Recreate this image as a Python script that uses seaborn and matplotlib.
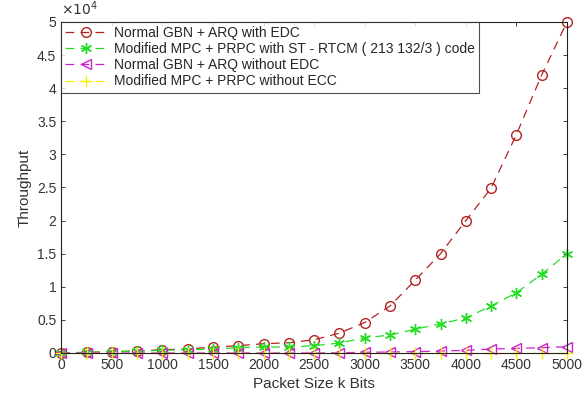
import numpy as np
import pandas as pd
import seaborn as sns
import matplotlib
matplotlib.use("Agg")
import matplotlib.pyplot as plt
from matplotlib.ticker import FuncFormatter, MultipleLocator

packet_size = [0, 250, 500, 750, 1000, 1250, 1500, 1750, 2000, 2250, 2500,
               2750, 3000, 3250, 3500, 3750, 4000, 4250, 4500, 4750, 5000]

gbn_with_edc = [0, 100, 200, 300, 500, 600, 900, 1100, 1400, 1550, 2000,
                3000, 4600, 7100, 11000, 15000, 20000, 24900, 33000, 42000, 50000]
mpc_with_st_rtcm = [0, 100, 200, 300, 400, 500, 600, 800, 900, 900, 1100,
                    1500, 2300, 2700, 3600, 4400, 5300, 7100, 9100, 11900, 15000]
gbn_without_edc = [0, 0, 0, 0, 0, 0, 0, 0, 0, 0, 0,
                   50, 100, 150, 200, 300, 400, 600, 700, 800, 950]
mpc_without_ecc = [0] * 21

labels = [
    "Normal GBN + ARQ with EDC",
    "Modified MPC + PRPC with ST - RTCM ( 213 132/3 ) code",
    "Normal GBN + ARQ without EDC",
    "Modified MPC + PRPC without ECC",
]
series = [gbn_with_edc, mpc_with_st_rtcm, gbn_without_edc, mpc_without_ecc]
colors = ["#B22222", "#22DD22", "#CC22CC", "#F2F200"]
markers = ["o", (6, 2, 0), "<", "+"]
sizes = [7, 8, 7, 8]

sns.set_theme(style="white")
plt.rcParams["font.family"] = ["Liberation Sans", "DejaVu Sans"]

fig = plt.figure(figsize=(5.83, 4.0), dpi=100)
ax = fig.add_axes([0.105, 0.1175, 0.8675, 0.8275])

for vals, lab, col, mk, ms in zip(series, labels, colors, markers, sizes):
    df = pd.DataFrame({"size": packet_size, "thr": vals})
    sns.lineplot(data=df, x="size", y="thr", ax=ax, color=col, label=lab,
                 marker=mk, markersize=ms, markerfacecolor="none",
                 markeredgecolor=col, markeredgewidth=1.0, linewidth=0.9,
                 dashes=(7, 5), clip_on=False)

ax.set_xlim(0, 5000)
ax.set_ylim(0, 50000)
ax.xaxis.set_major_locator(MultipleLocator(500))
ax.yaxis.set_major_locator(MultipleLocator(5000))
ax.yaxis.set_major_formatter(FuncFormatter(lambda v, p: f"{v / 1e4:g}"))
ax.text(0.0, 1.012, r"$\times10^{4}$", transform=ax.transAxes,
        fontsize=10, color="#333333", ha="left", va="bottom")

ax.tick_params(direction="in", length=3, width=0.6, labelsize=10,
               colors="#222222", top=True, right=True, bottom=True, left=True,
               labelcolor="#333333")
for s in ax.spines.values():
    s.set_color("#222222")
    s.set_linewidth(0.8)

ax.set_xlabel("Packet Size k Bits", fontsize=11, color="#333333")
ax.set_ylabel("Throughput", fontsize=11, color="#333333")

leg = ax.legend(loc="upper left", bbox_to_anchor=(0.0, 1.0), fontsize=10,
                frameon=True, fancybox=False, borderaxespad=0,
                handlelength=3.0, handletextpad=0.5, borderpad=0.3,
                labelspacing=0.15)
leg.get_frame().set_edgecolor("#222222")
leg.get_frame().set_linewidth(0.8)
leg.set_zorder(5)

fig.savefig("out.png", dpi=100)
